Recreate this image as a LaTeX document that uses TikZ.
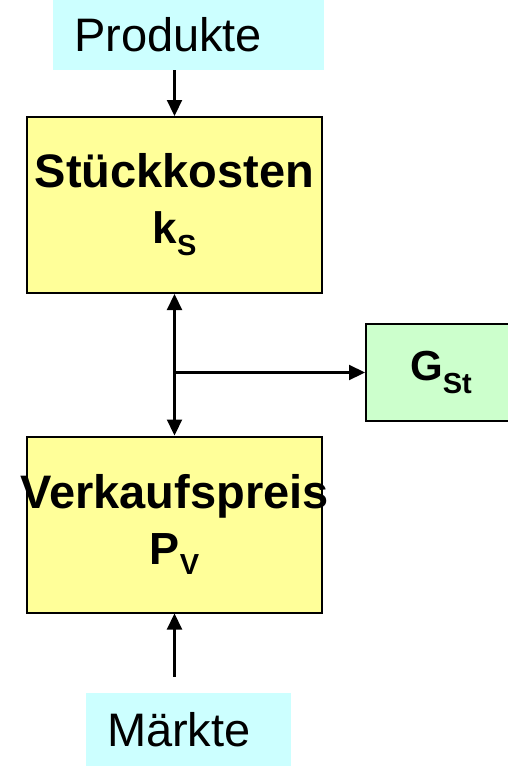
\documentclass[tikz,border=0pt]{standalone}
\usepackage{fontspec}
\setmainfont{Liberation Sans}
\usetikzlibrary{arrows.meta}
\definecolor{boxcyan}{HTML}{CCFFFF}
\definecolor{boxyellow}{HTML}{FFFF99}
\definecolor{boxgreen}{HTML}{CCFFCC}
\newcommand{\lowsub}[2]{\raisebox{-#2pt}{\fontsize{29}{29}\selectfont #1}}
\newcommand{\fixline}[1]{\makebox[0pt][c]{#1}}
\tikzset{
  labelbox/.style={rectangle, fill=boxcyan, inner xsep=21pt, inner ysep=0pt,
    align=left, font=\fontsize{47}{56}\selectfont},
  calcbox/.style={rectangle, draw=black, line width=2pt, fill=boxyellow,
    minimum width=295pt, minimum height=176pt, inner sep=0pt, align=center,
    font=\fontsize{47}{57}\selectfont\bfseries},
  resultbox/.style={rectangle, draw=black, line width=2pt, fill=boxgreen,
    minimum width=150pt, minimum height=97pt, inner sep=0pt,
    font=\fontsize{42}{50}\selectfont\bfseries},
  tip/.tip={Triangle[width=15pt,length=16pt]},
  arr/.style={line width=2.2pt, -tip},
  dblarr/.style={line width=2.2pt, tip-tip}
}
\begin{document}
\begin{tikzpicture}[x=1pt,y=-1pt]
  \useasboundingbox (0,0) rectangle (508,766);
  \clip (0,0) rectangle (508,766);

  % source boxes
  \node[labelbox, text width=229pt, minimum height=70pt] (prod) at (188.5,35) {Produkte};
  \node[labelbox, text width=163pt, minimum height=73pt] (mk) at (188.5,729.5) {Märkte};

  % calculation boxes
  \node[calcbox] (ks) at (174.5,205) {\fixline{Stückkosten}\\[-1pt]\fixline{\fontsize{44}{44}\selectfont k\lowsub{S}{12}}};
  \node[calcbox] (pv) at (174.5,524.5) {\fixline{Verkaufspreis}\\[-1pt]\fixline{\fontsize{45}{45}\selectfont P\lowsub{V}{10}}};

  % result box
  \node[resultbox] (g) at (441,372.5) {G\lowsub{St}{13}};

  % connectors
  \draw[arr] (prod.south -| ks.north) -- (ks.north);
  \draw[dblarr] (ks.south) -- (pv.north);
  \coordinate (j) at (ks.south |- g.west);
  \draw[arr] (j) -- (g.west);
  \coordinate (m) at ([yshift=16pt]mk.north -| pv.south);
  \draw[arr] (m) -- (pv.south);
\end{tikzpicture}
\end{document}
